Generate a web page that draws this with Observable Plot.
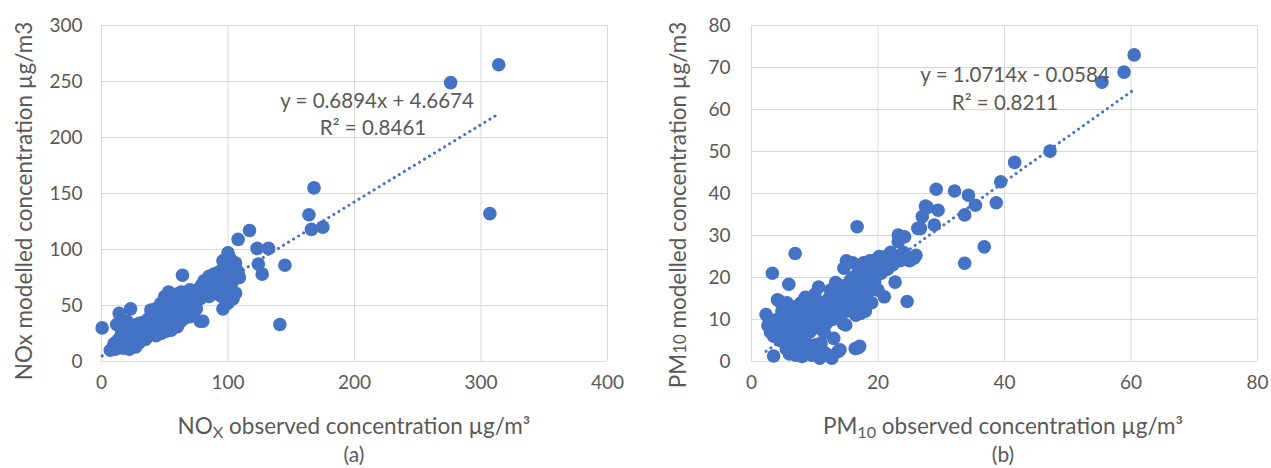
<!DOCTYPE html>
<html><head><meta charset="utf-8">
<script src="https://cdn.jsdelivr.net/npm/d3@7"></script>
<script src="https://cdn.jsdelivr.net/npm/@observablehq/plot@0.6"></script>
<style>
body{margin:0;background:#fff;font-family:Lato,"Open Sans",sans-serif;}
#wrap{position:relative;width:1271px;height:468px;overflow:hidden;background:#fff;}
.panel{position:absolute;top:0;}
.t{position:absolute;color:#595959;white-space:nowrap;font-size:22.5px;line-height:1.1;}
.rot{transform:translate(-50%,-50%) rotate(-90deg);}
.ctr{transform:translate(-50%,-50%);}
sub{font-size:0.72em;vertical-align:-0.3em;line-height:0;}
.sm{font-size:0.75em;}
.eq{font-size:20.5px;}
.cap{font-size:21px;}
</style></head><body>
<div id="wrap">
  <div id="pa" class="panel" style="left:0px"></div>
  <div id="pb" class="panel" style="left:640px"></div>
  <div class="t rot" style="left:24px;top:201px">NOx modelled concentration µg/m3</div>
  <div class="t ctr" style="left:354px;top:426px">NO<sub>X</sub> observed concentration µg/m³</div>
  <div class="t ctr cap" style="left:354px;top:454px">(a)</div>
  <div class="t rot" style="left:678px;top:205px">PM<span class="sm">10</span> modelled concentration µg/m3</div>
  <div class="t ctr" style="left:1003px;top:426px">PM<sub>10</sub> observed concentration µg/m³</div>
  <div class="t ctr cap" style="left:1003px;top:454px">(b)</div>
  <div class="t ctr eq" style="left:377px;top:100px">y = 0.6894x + 4.6674</div>
  <div class="t ctr eq" style="left:373px;top:127px">R² = 0.8461</div>
  <div class="t ctr eq" style="left:1015px;top:74px">y = 1.0714x - 0.0584</div>
  <div class="t ctr eq" style="left:1005px;top:102px">R² = 0.8211</div>
</div>
<script>
// ---- Panel (a) NOx: [observed, modelled]
const noxPoints = [
  [0.5,30],[7,10],[9,12],[11,11],[12,14],[14,13],[16,15],[18,12],[20,16],[22,14],[24,18],[26,15],[28,20],[30,17],
  [10,16],[13,19],[15,22],[17,18],[19,24],[21,20],[23,26],[25,22],[27,28],[29,24],[31,30],
  [12,33],[14,43],[23,47],[20,36],[25,32],[18,28],[16,12],[22,11],[27,13],
  [15,17],[17,21],[19,19],[21,23],[23,21],[25,25],[27,23],[29,27],[13,15],[11,13],[20,28],[22,30],[24,28],
  [26,31],[28,33],[30,34],[18,31],[16,26],
  [32,22],[34,26],[36,29],[38,24],[40,31],[42,28],[44,34],[46,30],[48,36],[50,33],[52,38],[54,35],[56,41],[58,37],[60,43],
  [33,35],[37,38],[41,44],[45,40],[49,46],[53,44],[57,50],[59,47],[35,20],[43,23],[47,25],[51,27],
  [39,46],[43,47],[47,52],[51,55],[53,62],[55,58],[57,54],[59,60],[61,57],[63,62],[55,28],[58,33],[60,31],[62,35],
  [32,33],[34,31],[36,34],[38,36],[40,38],[42,40],[44,42],[46,44],[48,42],[50,48],[52,46],[54,50],[56,48],[58,52],
  [60,54],[31,26],[35,24],[39,28],[41,34],[45,36],[49,40],[53,41],[57,44],[61,50],[62,41],[50,58],[52,54],[48,50],
  [46,48],[44,46],[42,37],
  [62,48],[64,52],[66,45],[68,55],[70,50],[72,58],[74,53],[76,60],[78,56],[80,64],[82,60],[84,67],[86,63],[88,70],
  [90,66],[92,72],[94,68],[96,74],[98,70],[64,77],[65,38],[68,42],[70,40],[72,44],[75,47],[78,36],[80,36],
  [65,56],[67,50],[69,59],[71,54],[73,57],[75,63],[77,58],[79,68],[83,70],[87,66],[91,69],[95,76],[67,62],[70,64],
  [85,58],[88,62],[94,64],[98,62],[102,65],[104,82],[96,90],[98,78],
  [73,62],[77,65],[81,72],[85,76],[89,78],[93,80],[97,85],[99,88],[101,93],[100,97],[103,90],[106,88],
  [96,47],[100,52],[104,56],[106,61],[103,70],[106,75],[108,80],[92,60],[90,75],[95,58],
  [108,109],[117,117],[123,101],[132,101],[124,87],[127,78],[109,75],
  [141,33],[145,86],[164,131],[166,118],[175,120],[168,155],[276,249],[314,265],[307,132]
];
const noxTrend = {slope: 0.6894, intercept: 4.6674};
const noxXTicks = [0,100,200,300,400];
const noxYTicks = [0,50,100,150,200,250,300];

// ---- Panel (b) PM10: [observed, modelled]
const pmPoints = [
  [2.3,11.2],[2.6,8.5],[3,7],[3.2,9.5],[3.5,6],[4,8],[4.3,14.5],[3.3,21],[5.9,18.4],[4.1,14.7],[3.5,1.3],
  [4.5,5],[5,7],[5.2,9.5],[5.5,12],[5.8,4],[6,6],[6.2,10],[6.5,13],[6.8,2],[7,5],[6.9,25.7],[5.6,14],[6,11],
  [7.2,8],[7.5,11],[7.8,14],[8,3],[8.2,6],[8.5,9],[8.5,15.3],[8.8,12],[9,2],[9.2,7],[9.5,10],[9.8,13],[10,16],
  [10.2,4],[10.5,8],[10.6,17.7],[10.8,0.8],[11,4.4],[11,11],[11.3,14],[11.5,7],[11.8,9],[12,12],[12.2,15],
  [12.5,17],[12.7,0.8],[12.8,10],[13,13],[13.3,18.8],[13.7,2.4],[7,1.5],[8,1.2],[9.5,1.5],[6.5,3],[7.5,3.5],[9,4],
  [4,10],[4.8,12],[5.3,11],[6.3,8],[6.7,11.5],[7,9],[7.3,12.5],[7.7,6],[8,10.5],[8.3,13],[8.7,7.5],[9,11],
  [9.3,14],[9.7,8.5],[10,12],[10.3,10],[10.7,13.5],[11.2,9.5],[11.6,12.5],[12,14],[12.4,11],[12.9,15.5],
  [13.2,12],[13.6,16.5],[14.1,12.5],[14.5,18],[14.8,14.5],[15.3,16.5],[15.7,19.5],[16.3,18],[16.8,21],
  [17.2,19],[17.7,23.5],[18.2,21],[18.7,24],[19.2,22.5],[19.7,24],[20.3,23],[7.5,2],[8.5,2.5],[10,2.8],
  [11.5,2.2],[12.2,1.5],[6,1.8],[5.5,3],[14,2.8],[13,5.5],[5.2,8],[3.8,9.5],[2.8,9.8],
  [13.5,11],[14,14],[14.2,16],[14.5,9],[14.6,22.2],[14.9,8.7],[15,12],[15.2,15],[15.5,18],[15.8,13],[16,20],
  [16.2,16],[16.4,3.1],[16.5,11],[16.7,32.1],[16.8,3.2],[17,14],[17.1,3.6],[17.3,11.5],[17.5,17],[17.8,21],
  [18,15],[18.3,19],[18.5,23],[18.8,17],[19,21],[19.3,24],[19.5,19],[19.8,22],[20,17],[20.2,25],[20.5,21],
  [20.8,23],[21,15.4],[15,24],[16,23.5],[17,22],[18,12],[19,14],
  [21.2,25],[21.5,22],[21.8,24],[22,26],[22.3,23],[22.7,18.9],[23,25],[23.2,28.5],[23.2,30.1],[24.2,29.7],
  [23.5,24],[24,26],[24.5,25],[24.6,14.3],[25,24],[25.7,24.6],[26,25.3],[26.3,31.7],[27,34.5],[27.5,37],
  [28.9,32.5],[29.2,41],[29.5,36],[27.8,36.7],[26.7,31.7],
  [32.1,40.6],[33.7,34.9],[33.7,23.4],[34.3,39.6],[35.4,37.2],[36.8,27.3],[38.7,37.8],[39.4,42.8],
  [41.6,47.4],[47.2,50.1],[55.4,66.5],[58.9,68.9],[60.5,73]
];
const pmTrend = {slope: 1.0714, intercept: -0.0584};
const pmXTicks = [0,20,40,60,80];
const pmYTicks = [0,10,20,30,40,50,60,70,80];

const dotColor = "#4472c4";
const gridColor = "#d9d9d9";
const textColor = "#595959";

function panel(points, trend, xTicks, yTicks, opts) {
  const data = points.map(([x, y]) => ({x, y}));
  const [x0, x1] = d3.extent(data, d => d.x);
  const line = [x0, x1].map(x => ({x, y: trend.slope * x + trend.intercept}));
  return Plot.plot({
    width: opts.width, height: 400,
    marginLeft: opts.marginLeft, marginRight: opts.marginRight,
    marginTop: 25, marginBottom: 39,
    style: {fontFamily: "Lato, 'Open Sans', sans-serif", fontSize: "19px", color: textColor, background: "transparent", overflow: "visible"},
    x: {domain: [xTicks[0], xTicks[xTicks.length - 1]], ticks: xTicks, label: null},
    y: {domain: [yTicks[0], yTicks[yTicks.length - 1]], ticks: yTicks, label: null},
    marks: [
      Plot.gridX(xTicks, {stroke: gridColor, strokeOpacity: 1, strokeWidth: 1}),
      Plot.gridY(yTicks, {stroke: gridColor, strokeOpacity: 1, strokeWidth: 1}),
      Plot.axisX({ticks: xTicks, tickSize: 0, tickPadding: 14, fill: textColor, fontSize: 19, label: null}),
      Plot.axisY({ticks: yTicks, tickSize: 0, tickPadding: opts.yPad, fill: textColor, fontSize: 19, label: null}),
      Plot.dot(data, {x: "x", y: "y", r: 6.8, fill: dotColor, stroke: "none"}),
      Plot.line(line, {x: "x", y: "y", stroke: dotColor, strokeWidth: 3, strokeDasharray: "0.1 5.8", strokeLinecap: "round"})
    ]
  });
}

document.getElementById("pa").appendChild(panel(noxPoints, noxTrend, noxXTicks, noxYTicks, {width: 640, marginLeft: 101, marginRight: 33, yPad: 19}));
document.getElementById("pb").appendChild(panel(pmPoints, pmTrend, pmXTicks, pmYTicks, {width: 631, marginLeft: 111, marginRight: 14, yPad: 21}));
</script>
</body></html>
